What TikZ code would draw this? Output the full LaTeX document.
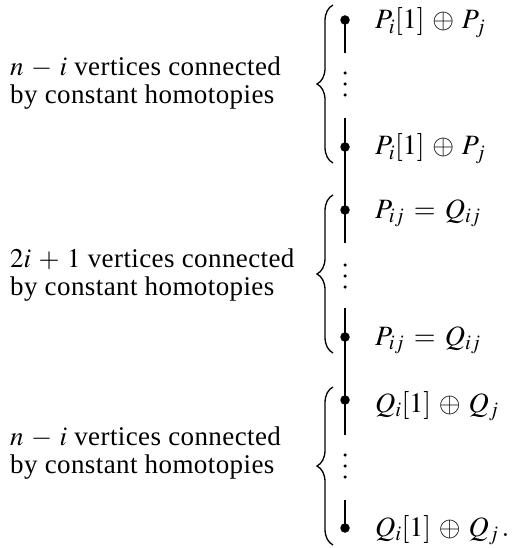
\documentclass[tikz,border=0pt]{standalone}
\usepackage{mathptmx}
\usepackage{fontspec}
\setmainfont[LetterSpace=1.5]{Liberation Serif}
\usetikzlibrary{decorations.pathreplacing}
\medmuskip=5mu plus 2mu minus 2mu
\thickmuskip=6mu plus 2mu
\tikzset{
  vtx/.style={circle, fill=black, inner sep=0pt, minimum size=9.5pt},
  vdot/.style={circle, fill=black, inner sep=0pt, minimum size=3.5pt},
  edge/.style={line width=1.7pt},
  bracepath/.style={line width=1.3pt, decorate, decoration={brace, amplitude=16pt}},
  lefttext/.style={anchor=west, align=left, inner sep=0pt, font=\fontsize{27}{28}\selectfont},
  righttext/.style={anchor=base west, inner sep=0pt, font=\fontsize{28}{28}\selectfont}
}
\begin{document}
\begin{tikzpicture}[x=1pt, y=-1pt]
\useasboundingbox (0,0) rectangle (513,548);
% vertices
\node[vtx] (a1) at (345,20) {};
\node[vtx] (a2) at (345,147) {};
\node[vtx] (b1) at (345,210) {};
\node[vtx] (b2) at (345,337) {};
\node[vtx] (c1) at (345,400) {};
\node[vtx] (c2) at (345,528) {};
\coordinate (a1e) at (345,53);
\coordinate (a2s) at (345,118);
\coordinate (b1e) at (345,243);
\coordinate (b2s) at (345,308);
\coordinate (c1e) at (345,435);
\coordinate (c2s) at (345,500);
% edges
\draw[edge] (a1.center) -- (a1e);
\draw[edge] (a2s) -- (a2.center) -- (b1.center) -- (b1e);
\draw[edge] (b2s) -- (b2.center) -- (c1.center) -- (c1e);
\draw[edge] (c2s) -- (c2.center);
% vertical dots
\foreach \y [count=\k] in {73,84,95,265,276,287,455,466,477}
  \node[vdot] (d\k) at (345,\y) {};
% braces
\draw[bracepath] (333,163) -- (333,5);
\draw[bracepath] (333,353) -- (333,195);
\draw[bracepath] (333,545) -- (333,387);
% left texts
\node[lefttext] (t1) at (10,83) {$n-i$ vertices connected\\by constant homotopies};
\node[lefttext] (t2) at (10,275) {$2i+1$ vertices connected\\by constant homotopies};
\node[lefttext] (t3) at (10,453) {$n-i$ vertices connected\\by constant homotopies};
% right labels
\node[righttext] (l1) at (375,29) {$P_i[1]\oplus P_j$};
\node[righttext] (l2) at (375,155) {$P_i[1]\oplus P_j$};
\node[righttext] (l3) at (375,218) {$P_{ij}=Q_{ij}$};
\node[righttext] (l4) at (375,345) {$P_{ij}=Q_{ij}$};
\node[righttext] (l5) at (375,412) {$Q_i[1]\oplus Q_j$};
\node[righttext] (l6) at (375,536) {$Q_i[1]\oplus Q_j\,.$};
\end{tikzpicture}
\end{document}
